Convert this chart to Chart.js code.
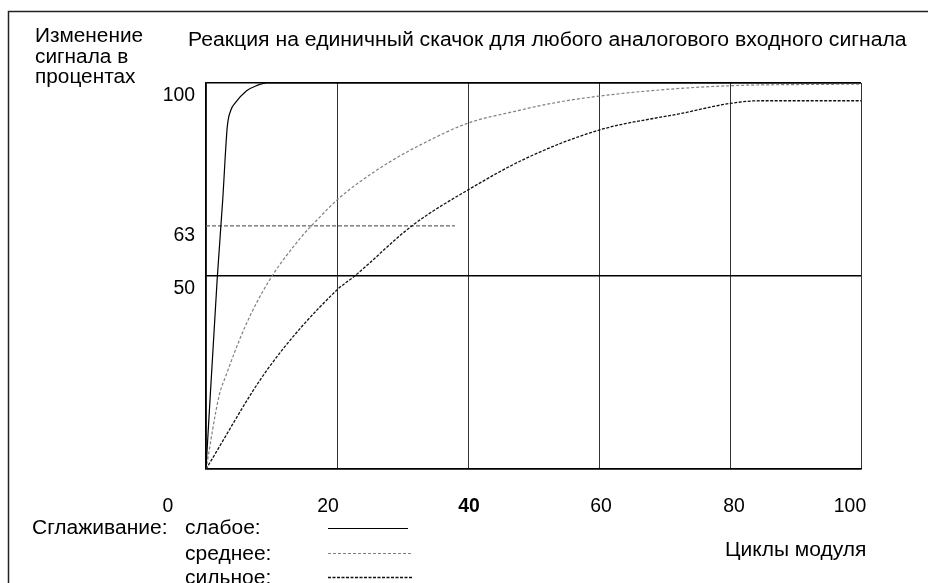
<!DOCTYPE html>
<html>
<head>
<meta charset="utf-8">
<script src="https://cdn.jsdelivr.net/npm/chart.js@4.4.0/dist/chart.umd.min.js"></script>
<style>
  html, body { margin: 0; padding: 0; background: #fff; }
  #wrap { position: relative; width: 928px; height: 583px; }
  canvas { display: block; }
</style>
</head>
<body>
<div id="wrap"><canvas id="c" width="928" height="583"></canvas></div>
<script>
// ---- Data ----
const weakX   = [0, 1.7, 2.55, 3.25, 3.8, 4.4, 6.2, 7.7, 9.3, 100];
const weakY   = [0, 49, 69.7, 88.7, 93, 94.7, 98, 99.3, 100, 100];

const mediumX = [0, 2, 3, 6, 9.5, 14.4, 17.4, 20, 23.5, 28, 33, 40, 47, 53, 60, 70, 80, 90, 100];
const mediumY = [0, 19, 24, 37, 48.4, 59.8, 65.3, 69.7, 74.4, 79.5, 84.2, 89.6, 92.6, 94.8, 96.6, 98.3, 99.3, 99.6, 99.7];

const strongX = [0, 9.3, 20, 22.7, 31.6, 40, 49, 60, 72.8, 80, 84.5, 100];
const strongY = [0, 25.6, 46.4, 50, 63.2, 72.3, 80.6, 87.8, 92.2, 94.7, 95.4, 95.4];

const refX = [0, 38];
const refY = [63, 63];

const xTickValues = [0, 20, 40, 60, 80, 100];
const xTickLabels = ['0', '20', '40', '60', '80', '100'];
const yTickValues = [100, 63, 50];
const yTickLabels = ['100', '63', '50'];
const yGridValues = [0, 50, 100];

const titleText = 'Реакция на единичный скачок для любого аналогового входного сигнала';
const yTitleLines = ['Изменение', 'сигнала в', 'процентах'];
const xTitleText = 'Циклы модуля';
const legendHead = 'Сглаживание:';
const legendNames = ['слабое:', 'среднее:', 'сильное:'];

// ---- build ----
const pts = (xs, ys) => xs.map((x, i) => ({ x: x, y: ys[i] }));
const FONT = '"Liberation Sans", Arial, sans-serif';

const styles = [
  { borderColor: '#000', borderWidth: 1.2, borderDash: [] },
  { borderColor: '#808080', borderWidth: 1.2, borderDash: [3, 2] },
  { borderColor: '#111', borderWidth: 1.3, borderDash: [3, 1.5] },
];

function textX(ctx, str, x, y, size, sx, align, bold) {
  ctx.save();
  ctx.font = (bold ? 'bold ' : '') + size + 'px ' + FONT;
  ctx.fillStyle = '#000';
  ctx.textBaseline = 'alphabetic';
  const w = ctx.measureText(str).width * sx;
  let left = x;
  if (align === 'center') left = x - w / 2;
  else if (align === 'right') left = x - w;
  ctx.translate(left, y);
  ctx.scale(sx, 1);
  ctx.textAlign = 'left';
  ctx.fillText(str, 0, 0);
  ctx.restore();
}

const decor = {
  id: 'decor',
  beforeDraw(chart) {
    const ctx = chart.ctx;
    ctx.save();
    ctx.fillStyle = '#fff';
    ctx.fillRect(0, 0, chart.width, chart.height);
    ctx.strokeStyle = '#222';
    ctx.lineWidth = 1.5;
    ctx.beginPath();
    ctx.moveTo(8.5, 583);
    ctx.lineTo(8.5, 11.5);
    ctx.lineTo(928, 11.5);
    ctx.stroke();
    ctx.restore();
  },
  afterDraw(chart) {
    const ctx = chart.ctx;
    const xs = chart.scales.x, ys = chart.scales.y;
    const area = chart.chartArea;
    textX(ctx, titleText, 188, 46, 20, 1.06, 'left');
    yTitleLines.forEach((l, i) => textX(ctx, l, 35, 42 + i * 20.6, 20, 1.04, 'left'));
    const yOff = [18, 15, 18];
    yTickValues.forEach((v, i) => textX(ctx, yTickLabels[i], 195, ys.getPixelForValue(v) + yOff[i], 20, 0.97, 'right'));
    const xOff = [-38, -9, 1, 2, 4, -11];
    xTickValues.forEach((v, i) => textX(ctx, xTickLabels[i], xs.getPixelForValue(v) + xOff[i], area.bottom + 43, 20, 0.97, 'center', v === 40));
    textX(ctx, xTitleText, 725, 556, 20, 1.05, 'left');
    textX(ctx, legendHead, 32, 534, 20, 1.05, 'left');
    const lgY = [534, 560, 584];
    const lineY = [528, 553, 577];
    legendNames.forEach((n, i) => {
      textX(ctx, n, 185, lgY[i], 20, 1.05, 'left');
      ctx.save();
      ctx.strokeStyle = styles[i].borderColor;
      ctx.lineWidth = styles[i].borderWidth;
      ctx.setLineDash(styles[i].borderDash);
      ctx.beginPath();
      ctx.moveTo(328, lineY[i] + 0.5);
      ctx.lineTo(i === 0 ? 408 : 412, lineY[i] + 0.5);
      ctx.stroke();
      ctx.restore();
    });
  }
};

new Chart(document.getElementById('c'), {
  type: 'line',
  data: {
    datasets: [
      Object.assign({ label: legendNames[0], data: pts(weakX, weakY) }, styles[0]),
      Object.assign({ label: legendNames[1], data: pts(mediumX, mediumY) }, styles[1]),
      Object.assign({ label: legendNames[2], data: pts(strongX, strongY) }, styles[2]),
      { label: '63', data: pts(refX, refY), borderColor: '#666', borderWidth: 1.2, borderDash: [4, 2] },
    ]
  },
  options: {
    responsive: false,
    animation: false,
    events: [],
    layout: { padding: { left: 206, top: 83, right: 67, bottom: 114 } },
    elements: {
      point: { radius: 0 },
      line: { tension: 0.4, cubicInterpolationMode: 'monotone', fill: false }
    },
    plugins: { legend: { display: false }, tooltip: { enabled: false }, title: { display: false } },
    scales: {
      x: {
        type: 'linear', min: 0, max: 100,
        afterBuildTicks: s => { s.ticks = xTickValues.map(v => ({ value: v })); },
        ticks: { display: false },
        grid: { color: '#333', lineWidth: 1, drawTicks: false },
        border: { display: true, color: '#000', width: 1.5 }
      },
      y: {
        type: 'linear', min: 0, max: 100,
        afterBuildTicks: s => { s.ticks = yGridValues.map(v => ({ value: v })); },
        ticks: { display: false },
        grid: {
          color: '#000', drawTicks: false,
          lineWidth: c => (c.tick && c.tick.value === 50 ? 1.6 : 1.4)
        },
        border: { display: true, color: '#000', width: 1.2 }
      }
    }
  },
  plugins: [decor]
});
</script>
</body>
</html>
